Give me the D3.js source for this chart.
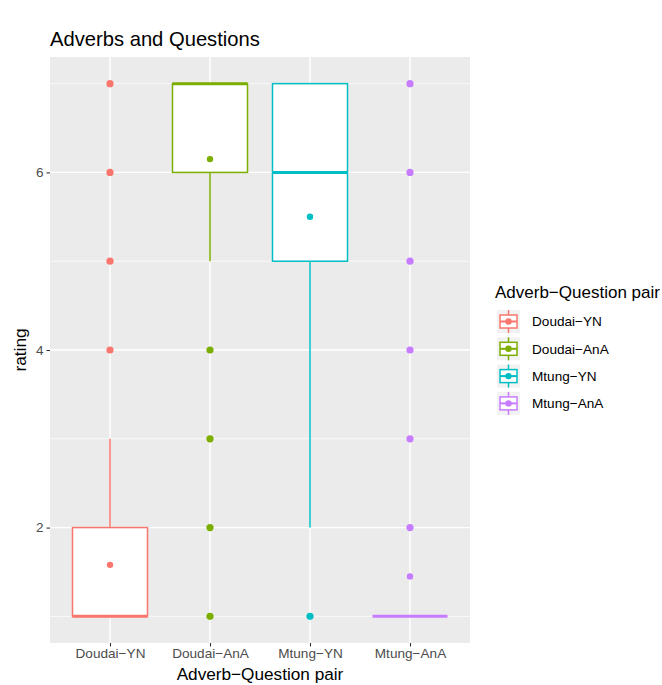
<!DOCTYPE html>
<html>
<head>
<meta charset="utf-8">
<script src="https://cdn.jsdelivr.net/npm/d3@7"></script>
<style>
  body { margin: 0; background: #fff; }
  text { font-family: "Liberation Sans", Arial, sans-serif; }
</style>
</head>
<body>
<div id="chart"></div>
<script>
// categories and box stats
const pairs = ["Doudai-YN", "Doudai-AnA", "Mtung-YN", "Mtung-AnA"];
const colors = ["#F8766D", "#7CAE00", "#00BFC4", "#C77CFF"];
const lowWhisker = [1, 5, 2, 1];
const q1 = [1, 6, 5, 1];
const medians = [1, 7, 6, 1];
const q3 = [2, 7, 7, 1];
const highWhisker = [3, 7, 7, 1];
const means = [1.58, 6.15, 5.5, 1.45];
const outliers = [[4, 5, 6, 7], [1, 2, 3, 4], [1], [2, 3, 4, 5, 6, 7]];
const yTicks = [2, 4, 6];
const yMinor = [1, 3, 5, 7];

let width = 662, height = 685,
    margin = ({ top: 57, right: 192, bottom: 42, left: 50 });

const svg = d3.select("#chart")
    .append("svg")
    .attr("width", width)
    .attr("height", height);

const boxes = pairs.map((p, i) => ({
  pair: p, color: colors[i], lo: lowWhisker[i], q1: q1[i], med: medians[i],
  q3: q3[i], hi: highWhisker[i], mean: means[i], out: outliers[i]
}));

let x = d3.scalePoint()
    .domain(pairs)
    .range([margin.left, width - margin.right])
    .padding(0.6);

let y = d3.scaleLinear()
    .domain([0.7, 7.3])
    .range([height - margin.bottom, margin.top]);

const step = x.step();
const boxW = step * 0.75;

// panel background
svg.append("rect")
    .attr("x", margin.left).attr("y", margin.top)
    .attr("width", width - margin.left - margin.right)
    .attr("height", height - margin.top - margin.bottom)
    .attr("fill", "#EBEBEB");

// grid lines
svg.append("g").selectAll("line").data(yMinor).join("line")
    .attr("x1", margin.left).attr("x2", width - margin.right)
    .attr("y1", d => y(d)).attr("y2", d => y(d))
    .attr("stroke", "#fff").attr("stroke-width", 0.7);
svg.append("g").selectAll("line").data(yTicks).join("line")
    .attr("x1", margin.left).attr("x2", width - margin.right)
    .attr("y1", d => y(d)).attr("y2", d => y(d))
    .attr("stroke", "#fff").attr("stroke-width", 1.4);
svg.append("g").selectAll("line").data(pairs).join("line")
    .attr("x1", d => x(d)).attr("x2", d => x(d))
    .attr("y1", margin.top).attr("y2", height - margin.bottom)
    .attr("stroke", "#fff").attr("stroke-width", 1.4);

// boxplots
const g = svg.append("g").selectAll("g").data(boxes).join("g");

g.append("line") // upper whisker
    .attr("x1", d => x(d.pair)).attr("x2", d => x(d.pair))
    .attr("y1", d => y(d.q3)).attr("y2", d => y(d.hi))
    .attr("stroke", d => d.color).attr("stroke-width", 1.5);
g.append("line") // lower whisker
    .attr("x1", d => x(d.pair)).attr("x2", d => x(d.pair))
    .attr("y1", d => y(d.q1)).attr("y2", d => y(d.lo))
    .attr("stroke", d => d.color).attr("stroke-width", 1.5);
g.append("rect")
    .attr("x", d => x(d.pair) - boxW / 2)
    .attr("y", d => y(d.q3))
    .attr("width", boxW)
    .attr("height", d => y(d.q1) - y(d.q3))
    .attr("fill", "#fff")
    .attr("stroke", d => d.color).attr("stroke-width", 1.5);
g.append("line") // median
    .attr("x1", d => x(d.pair) - boxW / 2).attr("x2", d => x(d.pair) + boxW / 2)
    .attr("y1", d => y(d.med)).attr("y2", d => y(d.med))
    .attr("stroke", d => d.color).attr("stroke-width", 3);

g.selectAll(".out").data(d => d.out.map(v => ({ v, d }))).join("circle")
    .attr("class", "out")
    .attr("cx", o => x(o.d.pair)).attr("cy", o => y(o.v))
    .attr("r", 3.6).attr("fill", o => o.d.color);

g.append("circle") // mean
    .attr("cx", d => x(d.pair)).attr("cy", d => y(d.mean))
    .attr("r", 3.2).attr("fill", d => d.color);

// axes
const xAxis = svg.append("g")
    .attr("transform", `translate(0,${height - margin.bottom})`)
    .call(d3.axisBottom(x).tickSize(3.5).tickPadding(2).tickFormat(d => d.replace("-", "\u2212")));
const yAxis = svg.append("g")
    .attr("transform", `translate(${margin.left},0)`)
    .call(d3.axisLeft(y).tickValues(yTicks).tickSize(3.5).tickPadding(3).tickFormat(d3.format("d")));
[xAxis, yAxis].forEach(a => {
  a.select(".domain").remove();
  a.selectAll(".tick line").attr("stroke", "#333").attr("stroke-width", 1.1);
  a.selectAll(".tick text").attr("fill", "#4D4D4D").attr("font-size", 13.6)
    .attr("font-family", "Liberation Sans, Arial, sans-serif");
});

// titles
svg.append("text")
    .attr("x", margin.left).attr("y", 46)
    .attr("font-size", 20.2).attr("fill", "#000")
    .text("Adverbs and Questions");
svg.append("text")
    .attr("x", (margin.left + width - margin.right) / 2).attr("y", 680)
    .attr("text-anchor", "middle").attr("font-size", 17.2)
    .text("Adverb\u2212Question pair");
svg.append("text")
    .attr("transform", `translate(26,${(margin.top + height - margin.bottom) / 2}) rotate(-90)`)
    .attr("text-anchor", "middle").attr("font-size", 17.2)
    .text("rating");

// legend
const lg = svg.append("g").attr("transform", "translate(495,0)");
lg.append("text").attr("x", 0).attr("y", 298)
    .attr("font-size", 17).text("Adverb\u2212Question pair");
const key = lg.selectAll("g.key").data(boxes).join("g")
    .attr("class", "key")
    .attr("transform", (d, i) => `translate(2,${310 + i * 27.3})`);
key.append("rect").attr("width", 23).attr("height", 23).attr("fill", "#F2F2F2");
key.append("line").attr("x1", 11.5).attr("x2", 11.5).attr("y1", 0).attr("y2", 23)
    .attr("stroke", d => d.color).attr("stroke-width", 1.5);
key.append("rect").attr("x", 3).attr("y", 5).attr("width", 17).attr("height", 13)
    .attr("fill", "#fff").attr("stroke", d => d.color).attr("stroke-width", 1.5);
key.append("line").attr("x1", 3).attr("x2", 20).attr("y1", 11.5).attr("y2", 11.5)
    .attr("stroke", d => d.color).attr("stroke-width", 2);
key.append("circle").attr("cx", 11.5).attr("cy", 11.5).attr("r", 3.2)
    .attr("fill", d => d.color);
key.append("text").attr("x", 35).attr("y", 11.5).attr("dy", "0.35em")
    .attr("font-size", 13.6).text(d => d.pair.replace("-", "\u2212"));
</script>
</body>
</html>
